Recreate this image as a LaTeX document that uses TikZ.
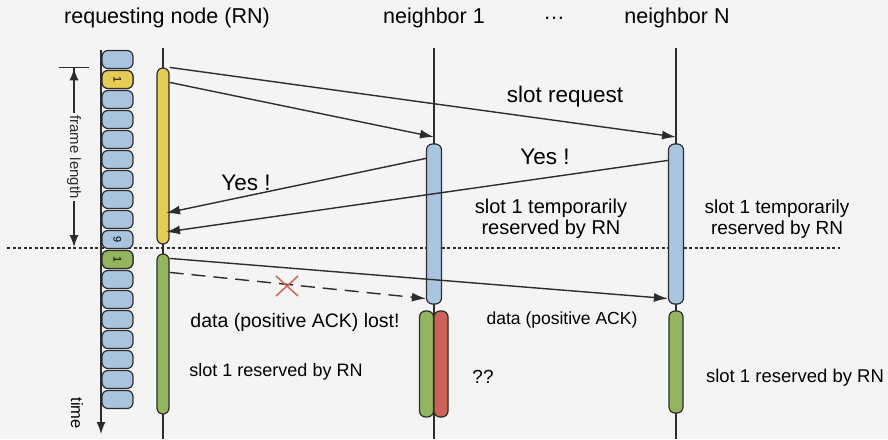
\documentclass[tikz,border=0pt]{standalone}
\usepackage{fontspec}
\setmainfont{Liberation Sans}
\usetikzlibrary{arrows.meta,calc}

\definecolor{bggray}{RGB}{244,244,244}
\definecolor{linegray}{RGB}{45,45,45}
\definecolor{slotblue}{RGB}{168,196,222}
\definecolor{slotyellow}{RGB}{230,204,86}
\definecolor{slotgreen}{RGB}{146,181,94}
\definecolor{slotred}{RGB}{206,96,90}
\definecolor{crossred}{RGB}{214,92,76}

\newcommand{\fsz}[1]{\fontsize{#1}{#1}\selectfont}

\tikzset{
	lifeline/.style={draw=linegray, line width=1.2pt},
	bar/.style={draw=linegray, line width=1.2pt, rounded corners=6pt, minimum width=12pt, inner sep=0pt},
	slot/.style={draw=linegray, line width=1.2pt, rounded corners=6pt, minimum width=31pt, minimum height=18pt, fill=slotblue, inner sep=0pt},
	slotnum/.style={rotate=-90, font=\fontsize{11}{11}\selectfont, inner sep=0pt},
	msg/.style={draw=linegray, line width=1.4pt, -{Latex[length=14pt,width=9pt]}},
	lbl/.style={font=\fontsize{18}{21}\selectfont, align=center},
	head/.style={font=\fontsize{21.5}{24}\selectfont},
}

\begin{document}
\begin{tikzpicture}[x=1pt,y=-1pt]
	\fill[bggray] (0,0) rectangle (888,439);
	\useasboundingbox (0,0) rectangle (888,439);

	% headers
	\node[head] (hRN) at (167,18) {requesting node (RN)};
	\node[head] (hN1) at (434,18) {neighbor 1};
	\node[head] (hdots) at (554,18) {\ldots};
	\node[head] (hNN) at (677,18) {neighbor N};

	% lifelines
	\coordinate (rnT) at (163,48); \coordinate (rnE) at (163,439);
	\coordinate (n1T) at (434,48); \coordinate (n1E) at (434,439);
	\coordinate (nNT) at (676,48); \coordinate (nNE) at (676,439);
	\draw[lifeline] (rnT) -- (rnE);
	\draw[lifeline] (n1T) -- (n1E);
	\draw[lifeline] (nNT) -- (nNE);

	% end of frame
	\coordinate (fbL) at (7,248); \coordinate (fbR) at (840,248);
	\draw[linegray, line width=1.3pt, dash pattern=on 3pt off 2.5pt] (fbL) -- (fbR);

	% time axis
	\coordinate (tT) at (101,50); \coordinate (tE) at (101,434);
	\draw[linegray, line width=1.3pt, -{Latex[length=12pt,width=9pt]}] (tT) -- (tE);
	\node[lbl, rotate=-90, font=\fontsize{16.5}{18}\selectfont] (time) at (77,413) {time};

	% slots of the frame
	\foreach \k in {0,...,17}
	{
		\node[slot] (slot\k) at (117.5,59.5+20*\k) {};
	}
	\node[slot, fill=slotyellow] (sY) at (slot1) {};
	\node[slotnum] at (sY) {1};
	\node[slotnum] at (slot9) {9};
	\node[slot, fill=slotgreen] (sG) at (slot10) {};
	\node[slotnum] at (sG) {1};

	% frame length
	\coordinate (flT) at (74,67); \coordinate (flB) at (74,247);
	\draw[linegray, line width=1.3pt, {Bar[width=30pt]Latex[length=12pt,width=9pt]}-{Latex[length=12pt,width=9pt]}]
		(flT) -- node[fill=bggray, rotate=-90, inner sep=2pt, font=\fontsize{15}{17}\selectfont] (fl) {frame length} (flB);

	% activity bars
	\node[bar, fill=slotyellow, minimum height=176pt] (rnY) at (163,156) {};
	\node[bar, fill=slotgreen, minimum height=160pt] (rnG) at (163,334) {};
	\node[bar, fill=slotblue, minimum width=15pt, minimum height=160pt] (n1B) at (434,224) {};
	\node[bar, fill=slotgreen, minimum width=14pt, minimum height=106pt] (n1G) at (426.5,364) {};
	\node[bar, fill=slotred, minimum width=14pt, minimum height=106pt] (n1R) at (441,364) {};
	\node[bar, fill=slotblue, minimum width=15pt, minimum height=160pt] (nNB) at (676,224) {};
	\node[bar, fill=slotgreen, minimum width=14pt, minimum height=102pt] (nNG) at (676,362) {};

	% slot request
	\coordinate (rqN) at (676,137);
	\coordinate (rq1) at (434,137);
	\draw[msg] (rnY.north east) -- (rqN);
	\draw[msg] ([yshift=-15pt]rnY.north east) -- (rq1);
	\node[lbl, font=\fsz{22.5}] (lreq) at (565,97) {slot request};

	% replies
	\coordinate (ys1) at (166,213);
	\coordinate (ysN) at (166,232);
	\draw[msg] ([yshift=-15pt]n1B.north west) -- (ys1);
	\draw[msg] ([yshift=-17pt]nNB.north west) -- (ysN);
	\node[lbl, font=\fsz{22.5}] (lyes1) at (246,183) {Yes !};
	\node[lbl, font=\fsz{22.5}] (lyesN) at (545,157) {Yes !};
	\node[lbl, font=\fontsize{20}{21}\selectfont] (ltmp1) at (551,219) {slot 1 temporarily\\reserved by RN};
	\node[lbl, font=\fontsize{19}{21}\selectfont] (ltmpN) at (777,219) {slot 1 temporarily\\reserved by RN};

	% positive ACK
	\draw[msg] ([yshift=-5pt]rnG.north east) -- ([yshift=6pt]nNB.south west);
	\draw[msg, dash pattern=on 14pt off 8pt] ([yshift=-19pt]rnG.north east) -- ([yshift=6pt]n1B.south west);
	\coordinate (lost) at (287,286);
	\draw[crossred, line width=1.4pt] ($(lost)+(-11,-10)$) -- ($(lost)+(11,10)$);
	\draw[crossred, line width=1.4pt] ($(lost)+(-11,10)$) -- ($(lost)+(11,-10)$);
	\node[lbl, font=\fsz{19.5}] (llost) at (295,322) {data (positive ACK) lost!};
	\node[lbl, font=\fsz{17.5}] (lack) at (562,320) {data (positive ACK)};

	% reserved
	\node[lbl] (lres1) at (276,372) {slot 1 reserved by RN};
	\node[lbl, font=\fsz{19}] (lq) at (483,377) {??};
	\node[lbl, font=\fsz{18.5}] (lresN) at (795,378) {slot 1 reserved by RN};
\end{tikzpicture}
\end{document}
